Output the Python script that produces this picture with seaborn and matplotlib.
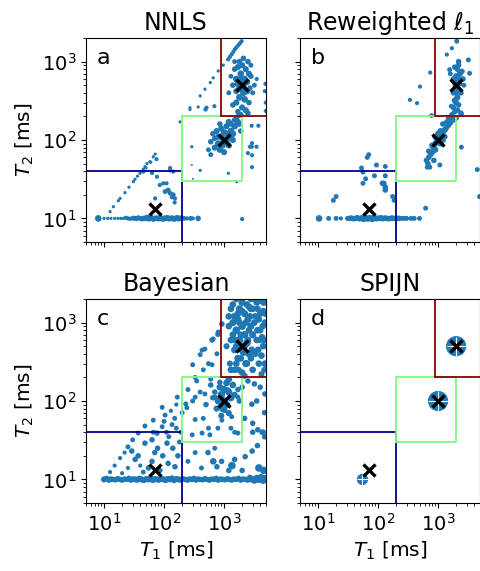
import matplotlib
matplotlib.use("Agg")
import matplotlib.pyplot as plt
import seaborn as sns
import pandas as pd

sns.set_style("ticks", {"axes.edgecolor": "black", "xtick.color": "black",
                        "ytick.color": "black", "text.color": "black",
                        "axes.labelcolor": "black"})
plt.rcParams["font.family"] = ["DejaVu Sans"]

titles = ["NNLS", "Reweighted $\\ell_1$", "Bayesian", "SPIJN"]
letters = ["a", "b", "c", "d"]

# ground truth components (T1, T2) in ms
true_t1 = [70, 1000, 2000]
true_t2 = [13, 100, 500]

# ---------------- NNLS ----------------
a_line_t1 = [8, 10, 11.5, 13, 15, 17, 19, 21, 23, 25, 27, 29, 31, 33, 35, 37, 40, 43, 46, 49,
             52, 55, 58, 62, 66, 70, 75, 80, 85, 90, 96, 102, 108, 115, 122, 130, 138, 146, 155,
             165, 175, 185, 195, 215, 240, 275, 300, 370, 2000]
a_line_t2 = [10, 10, 10, 10, 10, 10, 10, 10, 10.2, 10, 9.9, 10, 10.1, 10, 9.9, 10.2, 10, 9.8, 10.1,
             10, 10.3, 9.9, 10, 10.2, 9.8, 10, 10.1, 9.9, 10.2, 10, 9.8, 10.1, 10, 10.2, 9.9, 10,
             10.1, 9.8, 10, 10.2, 9.9, 10, 10.1, 10, 10, 10, 10, 10, 9.8]
a_line_w = [4, 1.5, 1.5, 1.5, 1.5, 1.5, 1.5, 1.5, 2, 2, 2, 2, 2.5, 2.5, 2.5, 2.5, 2.5, 2.5, 2.5,
            3, 3, 3, 3, 3, 3, 3, 3, 3, 3, 3, 3, 3, 3, 3, 3, 3, 3, 3, 3, 3, 3, 3, 3, 2.5, 2, 2.5,
            2, 3, 2]
a_diag_t1 = [12.6, 14.3, 17.3, 18.5, 22.3, 26, 30.8, 32.8, 36, 39.7, 45, 48, 52, 58, 66, 71, 50, 60]
a_diag_t2 = [12.2, 14.1, 16.8, 18, 21.3, 25, 29.4, 31.5, 34.5, 37.6, 42.3, 45.7, 50, 53, 61, 66, 44, 52]
a_diag_w = [1.5, 1.5, 1.5, 1.5, 1.5, 1.5, 1.5, 1.5, 1.5, 1.5, 1.5, 1.5, 1.5, 1.5, 1.5, 1.5, 1.5, 1.5]
a_low_t1 = [97, 110, 104, 117, 126, 142, 152, 142, 126, 45, 75, 126, 85, 71, 135, 150, 63, 76]
a_low_t2 = [28, 28, 22, 23, 21, 20, 18, 39.5, 41, 39.5, 57, 44, 26.7, 18, 18.6, 16, 38, 34]
a_low_w = [2, 2, 2.5, 2.5, 2.5, 2.5, 2, 2, 2, 2, 2, 2, 2, 2, 2, 2, 2, 2]
a_mid_t1 = [1000, 900, 1100, 800, 1200, 700, 850, 1000, 1300, 1500, 1700, 1400, 600, 650, 750,
            900, 1100, 1200, 1600, 1800, 1900, 1000, 1200, 1400, 800, 950, 700, 1150, 550, 600,
            1300, 1500, 1700, 1900, 850, 290, 400, 290, 1180, 1620, 2900, 3470, 2500, 2920, 2700,
            2920, 2920, 303, 185]
a_mid_t2 = [100, 110, 95, 90, 110, 80, 75, 70, 130, 150, 170, 120, 95, 120, 130, 140, 150, 170,
            190, 160, 130, 125, 85, 100, 110, 85, 105, 120, 75, 65, 160, 180, 200, 210, 160, 48,
            41, 82, 37.6, 29.4, 82, 82, 68, 45, 82, 64, 91, 32, 170]
a_mid_w = [5, 4, 4, 4, 4, 3.5, 3.5, 3.5, 4, 4, 3.5, 4, 3, 3, 3.5, 3.5, 3.5, 3.5, 3, 3, 3, 4, 3.5,
           3.5, 3.5, 3.5, 3, 3.5, 2.5, 2.5, 3, 3, 2.5, 2.5, 3, 1, 1.5, 1.5, 1.5, 1.5, 2, 2, 2, 2,
           2, 2, 2, 1, 1.5]
a_top_t1 = [2000, 2200, 1800, 2100, 1900, 2300, 2000, 1700, 1500, 2500, 1600, 2400, 2600, 2800,
            1800, 2200, 1600, 1400, 2000, 2300, 1700, 2600, 3000, 3200, 2800, 1500, 1300, 1200,
            2500, 1900, 2100, 1800, 3500, 2100, 1700, 2400, 1900, 1600, 1400, 2700,
            4900, 4950, 4950, 3730, 2880, 4800]
a_top_t2 = [500, 600, 450, 400, 700, 800, 900, 850, 800, 1000, 600, 550, 700, 650, 350, 330, 300,
            280, 260, 240, 230, 300, 400, 500, 900, 1000, 650, 400, 220, 210, 1100, 1000, 600,
            480, 520, 420, 600, 420, 500, 460,
            520, 300, 235, 152, 152, 420]
a_top_w = [5, 4, 4, 4, 4, 3.5, 3.5, 3.5, 3, 3, 4, 4, 3.5, 3, 4, 4, 3.5, 3, 3.5, 3.5, 3, 3, 2.5,
           2.5, 2.5, 2.5, 2.5, 2.5, 3, 3, 3, 3, 2, 4, 4, 4, 4, 3.5, 3, 3,
           2, 2, 2, 2, 2, 2]
a_diag2_t1 = [370, 400, 480, 590, 660, 800, 970, 1170, 1340, 1520, 1730, 1960, 1250, 1430, 1620,
              1850, 270, 490, 690, 270, 510]
a_diag2_t2 = [264, 365, 445, 540, 620, 760, 900, 1070, 1240, 1440, 1620, 1820, 1150, 1340, 1530,
              1720, 245, 245, 270, 258, 258]
a_diag2_w = [1.5, 1.5, 1.5, 1.5, 1.5, 1.5, 1.5, 2, 2, 2, 2, 2, 2, 2, 2, 2, 1.5, 2, 2, 1.5, 2]

# ---------------- Reweighted l1 ----------------
b_line_t1 = [10.4, 15, 20, 24, 31, 33, 36, 39, 42, 45, 48, 51, 54, 57, 60, 64, 68, 72, 76, 80,
             85, 90, 95, 100, 106, 112, 118, 125, 132, 140, 150, 160, 170, 180, 195, 210, 225,
             250, 275, 300, 355, 400, 490]
b_line_t2 = [10, 10, 10, 10, 10, 10, 10.1, 9.9, 10, 10.2, 9.9, 10, 10.1, 9.8, 10.2, 10, 9.9,
             10.1, 10, 9.8, 10.2, 10, 9.9, 10.1, 10, 10.2, 9.9, 10, 10.1, 10, 9.9, 10, 10.1, 10,
             10, 10, 10, 10, 10, 10, 10, 10, 10]
b_line_w = [4, 2.5, 2.5, 2, 2.5, 3, 3, 3, 3, 3, 3, 3, 3.5, 3.5, 3.5, 3.5, 3.5, 3.5, 3.5, 3.5,
            3.5, 3, 3, 3, 3, 3, 3, 3, 3, 3, 3, 3, 3, 3, 3, 3, 3, 2.5, 2.5, 2.5, 2.5, 2.5, 2.5]
b_low_t1 = [70, 66, 94, 53, 56, 62, 56, 87, 132, 132, 118, 125, 132, 132, 175, 185, 18, 20, 620,
            4900, 4500]
b_low_t2 = [65, 60, 48, 44, 39, 32, 28, 35, 46, 35, 28, 28, 25, 23, 19, 17, 17, 19, 13.5, 19, 42]
b_low_w = [2.5, 2.5, 2.5, 2.5, 2.5, 2.5, 2.5, 2.5, 2.5, 2.5, 3, 3, 3, 3, 2.5, 2.5, 2.5, 2.5, 2.5,
           2.5, 2.5]
b_mid_t1 = [640, 680, 700, 750, 800, 850, 900, 950, 1000, 1050, 1100, 1150, 1200, 1300, 1400,
            1500, 1600, 1800, 2000, 900, 1100, 1200, 800, 700, 1300, 1000, 900, 1100, 1400, 1700,
            660, 730, 850, 1070, 2450, 1500, 1200]
b_mid_t2 = [55, 50, 60, 65, 70, 80, 90, 95, 100, 105, 110, 120, 125, 135, 145, 155, 165, 180, 190,
            75, 90, 100, 85, 72, 110, 120, 110, 130, 170, 200, 45, 45, 55, 48, 81, 190, 160]
b_mid_w = [3, 3, 3, 3, 3.5, 3.5, 3.5, 3.5, 4.5, 3.5, 3.5, 3.5, 3.5, 3.5, 3, 3, 3, 3, 3, 3.5, 3.5,
           3.5, 3.5, 3, 3, 3.5, 3.5, 3.5, 3, 3, 2.5, 2.5, 3, 2.5, 2.5, 3, 3]
b_top_t1 = [2000, 2100, 1900, 2200, 2000, 2300, 2100, 1900, 2200, 2000, 2100, 1900, 2000, 2200,
            1800, 2100, 1900, 2400, 1700, 2300, 1800, 2500, 2400, 1800, 2600, 2050, 1700, 1400,
            3200, 1560, 3350, 1660, 2450, 780, 2200, 2700, 1600, 740, 500, 340, 445]
b_top_t2 = [500, 450, 550, 600, 650, 700, 800, 850, 900, 400, 350, 320, 300, 280, 260, 240, 230,
            220, 210, 520, 600, 750, 400, 400, 600, 1820, 1480, 1230, 1050, 790, 710, 270, 215,
            205, 1000, 500, 700, 725, 480, 325, 295]
b_top_w = [4.5, 3.5, 3.5, 3.5, 3.5, 3.5, 3, 3, 3, 3.5, 3.5, 3.5, 3.5, 3, 3, 3, 3, 3, 3, 3, 3, 3,
           3, 3, 3, 2.5, 2, 2, 2.5, 2.5, 2.5, 2.5, 2.5, 2.5, 3, 2.5, 2.5, 2, 2, 2, 2]

# ---------------- Bayesian ----------------
c_line_t1 = [10, 11, 12, 13, 14, 15.5, 17, 18.5, 20, 22, 24, 26, 28, 30, 33, 36, 39, 42, 46, 50,
             55, 60, 65, 70, 76, 82, 90, 98, 106, 115, 125, 135, 147, 160, 175, 190, 205, 225,
             245, 265, 290, 315, 340, 370, 400, 440, 480, 520, 570, 620, 680, 740, 800, 870, 950,
             1040, 1130, 1230, 1340, 1460, 1600, 1750, 1900, 2080, 2270, 2480, 2700, 2950, 3200,
             3500, 3800, 4100, 4500, 4900]
c_line_t2 = [10, 10.3, 9.8, 10.1, 10, 9.9, 10.2, 10, 9.8, 10.1, 10, 10.3, 9.8, 10.1, 10,
             9.9, 10.2, 10, 9.8, 10.1, 10, 10.3, 9.8, 10.1, 10, 9.9, 10.2, 10, 9.8, 10.1,
             10, 10.3, 9.8, 10.1, 10, 9.9, 10.2, 10, 9.8, 10.1, 10, 10.3, 9.8, 10.1, 10,
             9.9, 10.2, 10, 9.8, 10.1, 10, 10.3, 9.8, 10.1, 10, 9.9, 10.2, 10, 9.8, 10.1,
             10, 10.3, 9.8, 10.1, 10, 9.9, 10.5, 10, 9.7, 10.3, 10, 10.5, 9.8, 10.2]
c_line_w = [3.5, 3, 3, 3, 3, 3, 3, 3, 3, 3, 3, 3, 3, 3, 3.5, 3.5, 3.5, 3.5, 3.5, 3.5,
            3.5, 3.5, 3.5, 3.5, 3.5, 3.5, 3.5, 3.5, 3.5, 3.5, 3.5, 3.5, 3.5, 3.5, 3.5,
            3.5, 3, 3, 3, 3, 3, 3, 3, 3, 3, 3, 3, 3, 3, 3, 3, 3, 3, 3, 3, 3, 3, 3, 3, 3,
            3, 3, 3, 3, 3, 3.5, 3.5, 4, 4, 4.5, 4.5, 5, 5, 5]
c_low_t1 = [12.6, 15, 18.5, 22, 25, 30, 37, 48, 66, 93, 104, 136, 200, 29, 33, 63, 76, 95, 117,
            152, 63, 45, 140, 112, 93, 66, 48, 37, 78, 55, 85, 120, 160, 180, 100, 150, 40, 70,
            25, 20, 170, 190, 130, 160, 110]
c_low_t2 = [12.4, 15, 18.7, 22, 26, 32, 39, 48, 57, 83, 66, 50, 71, 23, 18, 32, 39, 20, 16, 14.5,
            17, 12.4, 25, 29, 47, 40, 29, 20, 25, 14, 13, 35, 45, 30, 55, 60, 15, 22, 14, 12, 20,
            40, 75, 90, 40]
c_low_w = [2, 2, 2, 2, 2.5, 2.5, 2.5, 2.5, 2.5, 2.5, 2.5, 2.5, 2.5, 3, 3, 3, 3, 3, 3, 3, 3, 2.5,
           3, 3, 2.5, 2.5, 3, 3, 3, 3, 3, 2.5, 2.5, 2.5, 2.5, 2.5, 2, 3, 2, 2, 3, 2.5, 2, 2, 2.5]
c_right_t1 = [540, 660, 760, 1350, 330, 250, 2940, 3600, 4750, 3000, 4300, 2250, 910, 1500, 1200,
              2000, 700, 420, 3800, 4600, 3200, 4800, 2900, 3000, 3650, 4750, 2500, 4000, 2200,
              3500, 4500]
c_right_t2 = [22, 17, 14.5, 15, 22, 17, 23, 27, 35, 40, 40, 19.5, 17, 18, 13, 13, 25, 14, 14, 13,
              165, 123, 91, 52, 43, 71, 180, 150, 60, 100, 40]
c_right_w = [3, 4, 3, 5, 2.5, 2.5, 3, 3, 3, 3, 3, 3, 3, 3, 3, 3, 2.5, 2.5, 5, 5, 3, 3, 3, 3, 3,
             3, 3, 3, 3, 3, 3]
c_mid_t1 = [1000, 900, 1100, 800, 1200, 950, 1300, 850, 1100, 1200, 1400, 1000, 750, 900, 1200,
            1500, 1700, 1800, 700, 650, 600, 500, 450, 550, 400, 300, 250, 350, 230, 330, 480,
            710, 1700, 2000, 1170, 850, 330, 430, 580, 790, 920, 1030, 1340, 1700, 295, 240,
            1500, 600, 1300, 630, 480, 430, 300, 790, 920, 760, 330, 166, 630, 400, 660, 800,
            550, 450]
c_mid_t2 = [100, 120, 90, 100, 130, 80, 110, 150, 170, 190, 160, 140, 80, 65, 70, 120, 140, 100,
            130, 110, 160, 90, 60, 45, 130, 100, 140, 180, 92, 112, 123, 112, 112, 150, 138, 173,
            58, 39, 37, 45, 57, 76, 63, 39, 37, 82, 40, 190, 45, 600, 460, 445, 290, 710, 960,
            400, 200, 112, 290, 390, 620, 760, 300, 250]
c_mid_w = [5, 5, 5, 4.5, 4.5, 4.5, 4.5, 4, 4, 4, 4, 5, 3.5, 3.5, 3.5, 3.5, 3, 3, 3, 3, 3, 3, 2.5,
           2.5, 2.5, 2.5, 2.5, 2.5, 2.5, 2.5, 2.5, 2.5, 2.5, 3, 3, 3, 2.5, 2.5, 2.5, 2.5, 2.5, 3,
           2.5, 2.5, 2.5, 2.5, 2.5, 2.5, 2.5, 3, 2.5, 2.5, 2.5, 3, 3, 2.5, 2.5, 2.5, 2.5, 2.5,
           2.5, 2.5, 2.5, 2.5]
c_top_t1 = [2000, 1800, 2200, 2000, 1600, 2500, 2200, 1800, 2000, 1500, 1400, 3000, 3500, 4000,
            3300, 4500, 2800, 3000, 3500, 4000, 4500, 2600, 2300, 1700, 1500, 1300, 1200, 1300,
            1600, 2800, 4800, 4800, 3800, 3000, 2000, 1500, 1250, 1100, 2400, 2100, 1900, 2600,
            1700, 3800, 4300, 2900, 1400, 1750, 2200, 4200,
            1300, 1600, 1900, 2400, 2800, 3300, 3700, 4200, 4700, 4400, 4000, 3600, 3200, 2700,
            2400, 2000, 1700, 1400, 1200, 1800, 2300, 2800, 3200, 4600, 4900, 3600, 2600, 2200,
            1900, 1500, 2500, 1600, 4000, 4700]
c_top_t2 = [500, 600, 700, 900, 800, 1100, 1300, 1500, 1800, 1200, 1000, 1500, 1800, 1900, 1200,
            1400, 900, 700, 600, 800, 500, 400, 300, 350, 450, 600, 900, 1500, 2000, 2000, 1000,
            300, 300, 250, 230, 250, 300, 500, 550, 420, 480, 1600, 1100, 1100, 650, 450, 700,
            250, 210, 220,
            250, 300, 350, 300, 350, 400, 450, 380, 600, 900, 1300, 1500, 1000, 1200, 1700, 1400,
            1300, 1700, 1200, 1000, 1000, 1500, 2000, 1800, 1300, 800, 800, 500, 700, 600, 600,
            500, 600, 250]
c_top_w = [5, 5, 5, 5, 5, 4.5, 4.5, 4.5, 4.5, 4.5, 4.5, 4, 4, 4, 4, 4, 4.5, 4.5, 4, 4, 4, 4.5,
           4.5, 4.5, 4.5, 4, 4, 4, 4, 4, 4, 4, 4, 4, 4, 4, 3.5, 3.5, 5, 5, 5, 4, 4.5, 4, 4, 4, 4,
           3.5, 3.5, 3.5,
           4, 4, 4, 4, 4, 4, 4, 4, 4, 4, 4, 4, 4, 4, 4, 4, 4, 4, 4, 4, 4, 4, 4, 4, 4, 4, 4, 4,
           4, 4, 4, 4, 4, 3.5]

# ---------------- SPIJN ----------------
d_t1 = [2000, 1000, 55]
d_t2 = [500, 100, 10]
d_w = [5, 5, 1.6]


def frame(pairs):
    t1, t2, w = [], [], []
    for a, b, c in pairs:
        assert len(a) == len(b) == len(c), (len(a), len(b), len(c))
        t1 += a
        t2 += b
        w += c
    return pd.DataFrame({"T1": t1, "T2": t2, "w": w})


panels = [
    frame([(a_line_t1, a_line_t2, a_line_w), (a_diag_t1, a_diag_t2, a_diag_w),
           (a_low_t1, a_low_t2, a_low_w), (a_mid_t1, a_mid_t2, a_mid_w),
           (a_top_t1, a_top_t2, a_top_w), (a_diag2_t1, a_diag2_t2, a_diag2_w)]),
    frame([(b_line_t1, b_line_t2, b_line_w), (b_low_t1, b_low_t2, b_low_w),
           (b_mid_t1, b_mid_t2, b_mid_w), (b_top_t1, b_top_t2, b_top_w)]),
    frame([(c_line_t1, c_line_t2, c_line_w), (c_low_t1, c_low_t2, c_low_w),
           (c_right_t1, c_right_t2, c_right_w), (c_mid_t1, c_mid_t2, c_mid_w),
           (c_top_t1, c_top_t2, c_top_w)]),
    frame([(d_t1, d_t2, d_w)]),
]

W, H = 481, 571
fig = plt.figure(figsize=(W / 100, H / 100), dpi=100)
boxes = [(86, 38), (300, 38), (86, 299), (300, 299)]
AW, AH = 180, 204
XLIM = (5, 5000)
YLIM = (5, 2000)
BLUE, GREEN, RED = "#00008b", "#7dfa7d", "#8b0000"

for i, (px, py) in enumerate(boxes):
    ax = fig.add_axes([px / W, 1 - (py + AH) / H, AW / W, AH / H])
    df = panels[i]
    if i < 3:
        sns.scatterplot(data=df, x="T1", y="T2", size="w", size_norm=(1, 5), sizes=(2, 30),
                        color="#1f77b4", linewidth=0, legend=False, ax=ax, zorder=2)
    else:
        sns.scatterplot(data=df, x="T1", y="T2", size="w", size_norm=(1, 5), sizes=(30, 190),
                        color="#1f77b4", edgecolor="#1f77b4", linewidth=0.8, legend=False,
                        ax=ax, zorder=2)
        sns.scatterplot(data=df, x="T1", y="T2", size="w", size_norm=(1, 5), sizes=(30, 190),
                        color="white", marker="+", linewidth=0.8, legend=False, ax=ax, zorder=2.5)
    ax.set_xscale("log")
    ax.set_yscale("log")
    ax.set_xlim(*XLIM)
    ax.set_ylim(*YLIM)
    # region boundaries
    ax.plot([XLIM[0], 200], [40, 40], color=BLUE, lw=1.3, zorder=3)
    ax.plot([200, 200], [YLIM[0], 40], color=BLUE, lw=1.3, zorder=3)
    ax.plot([200, 2000, 2000, 200, 200], [30, 30, 200, 200, 30], color=GREEN, lw=1.3, zorder=3)
    ax.plot([900, 900], [200, YLIM[1]], color=RED, lw=1.3, zorder=3)
    ax.plot([900, XLIM[1]], [200, 200], color=RED, lw=1.3, zorder=3)
    ax.scatter(true_t1, true_t2, marker="x", s=75, color="black", linewidths=2.4, zorder=5)
    ax.set_title(titles[i], fontsize=17, pad=6)
    ax.text(0.06, 0.90, letters[i], transform=ax.transAxes, fontsize=16, va="center", ha="left")
    ax.tick_params(labelsize=14, which="both", direction="out")
    if i in (0, 2):
        ax.set_ylabel("$T_2$ [ms]", fontsize=14.5)
    else:
        ax.set_ylabel("")
        ax.tick_params(labelleft=False)
    if i in (2, 3):
        ax.set_xlabel("$T_1$ [ms]", fontsize=14.5)
    else:
        ax.set_xlabel("")
        ax.tick_params(labelbottom=False)

fig.savefig("out.png", dpi=100)
